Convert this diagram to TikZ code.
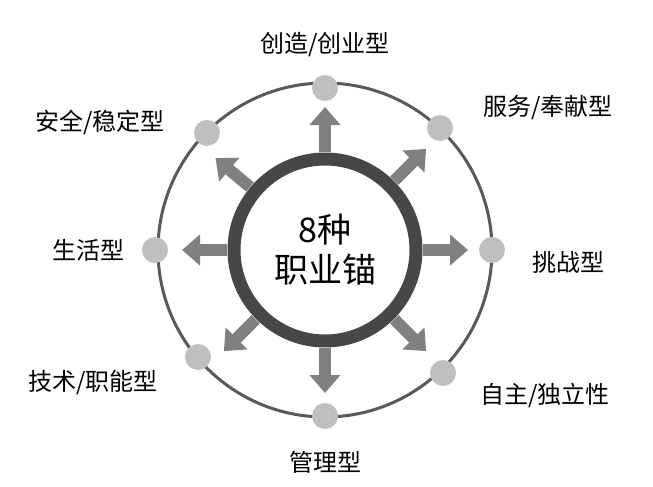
\documentclass[tikz,border=0pt]{standalone}
\usepackage{fontspec}
\setmainfont{Noto Sans CJK SC}
\usetikzlibrary{arrows.meta}
\begin{document}
\begin{tikzpicture}[x=1pt,y=-1pt,
  dot/.style={circle,fill=black!25,minimum size=26pt,inner sep=0pt},
  lab/.style={font=\fontsize{24}{26}\selectfont},
  fat/.style={draw=black!50,line width=12pt,-{Triangle[length=18pt,width=30pt]}}]
\useasboundingbox (0,0) rectangle (653,487);
\coordinate (c) at (325,250);
\draw[black!65,line width=3pt] (c) circle (167);
\node[circle,draw=black!72,line width=13pt,minimum size=182pt,inner sep=0pt,align=center,font=\fontsize{34}{40}\selectfont] (core) at (c) {8种\\职业锚};
\foreach \n/\p in {t/{325,88}, tr/{440,128}, r/{492,250}, br/{443,373}, b/{325,416}, bl/{198,357}, l/{155,250}, tl/{207,133}}{
  \node[dot] (\n) at (\p) {};
}
\foreach \a in {90,45,0,-45,-90,-140,180,135}{
  \draw[fat] ([shift={(\a:98)}]c) -- ([shift={(\a:143)}]c);
}
\node[lab] at (325,45) {创造/创业型};
\node[lab] at (548,108) {服务/奉献型};
\node[lab] at (568,262) {挑战型};
\node[lab] at (545,395) {自主/独立性};
\node[lab] at (325,462) {管理型};
\node[lab] at (93,383) {技术/职能型};
\node[lab] at (88,250) {生活型};
\node[lab] at (100,122) {安全/稳定型};
\end{tikzpicture}
\end{document}
